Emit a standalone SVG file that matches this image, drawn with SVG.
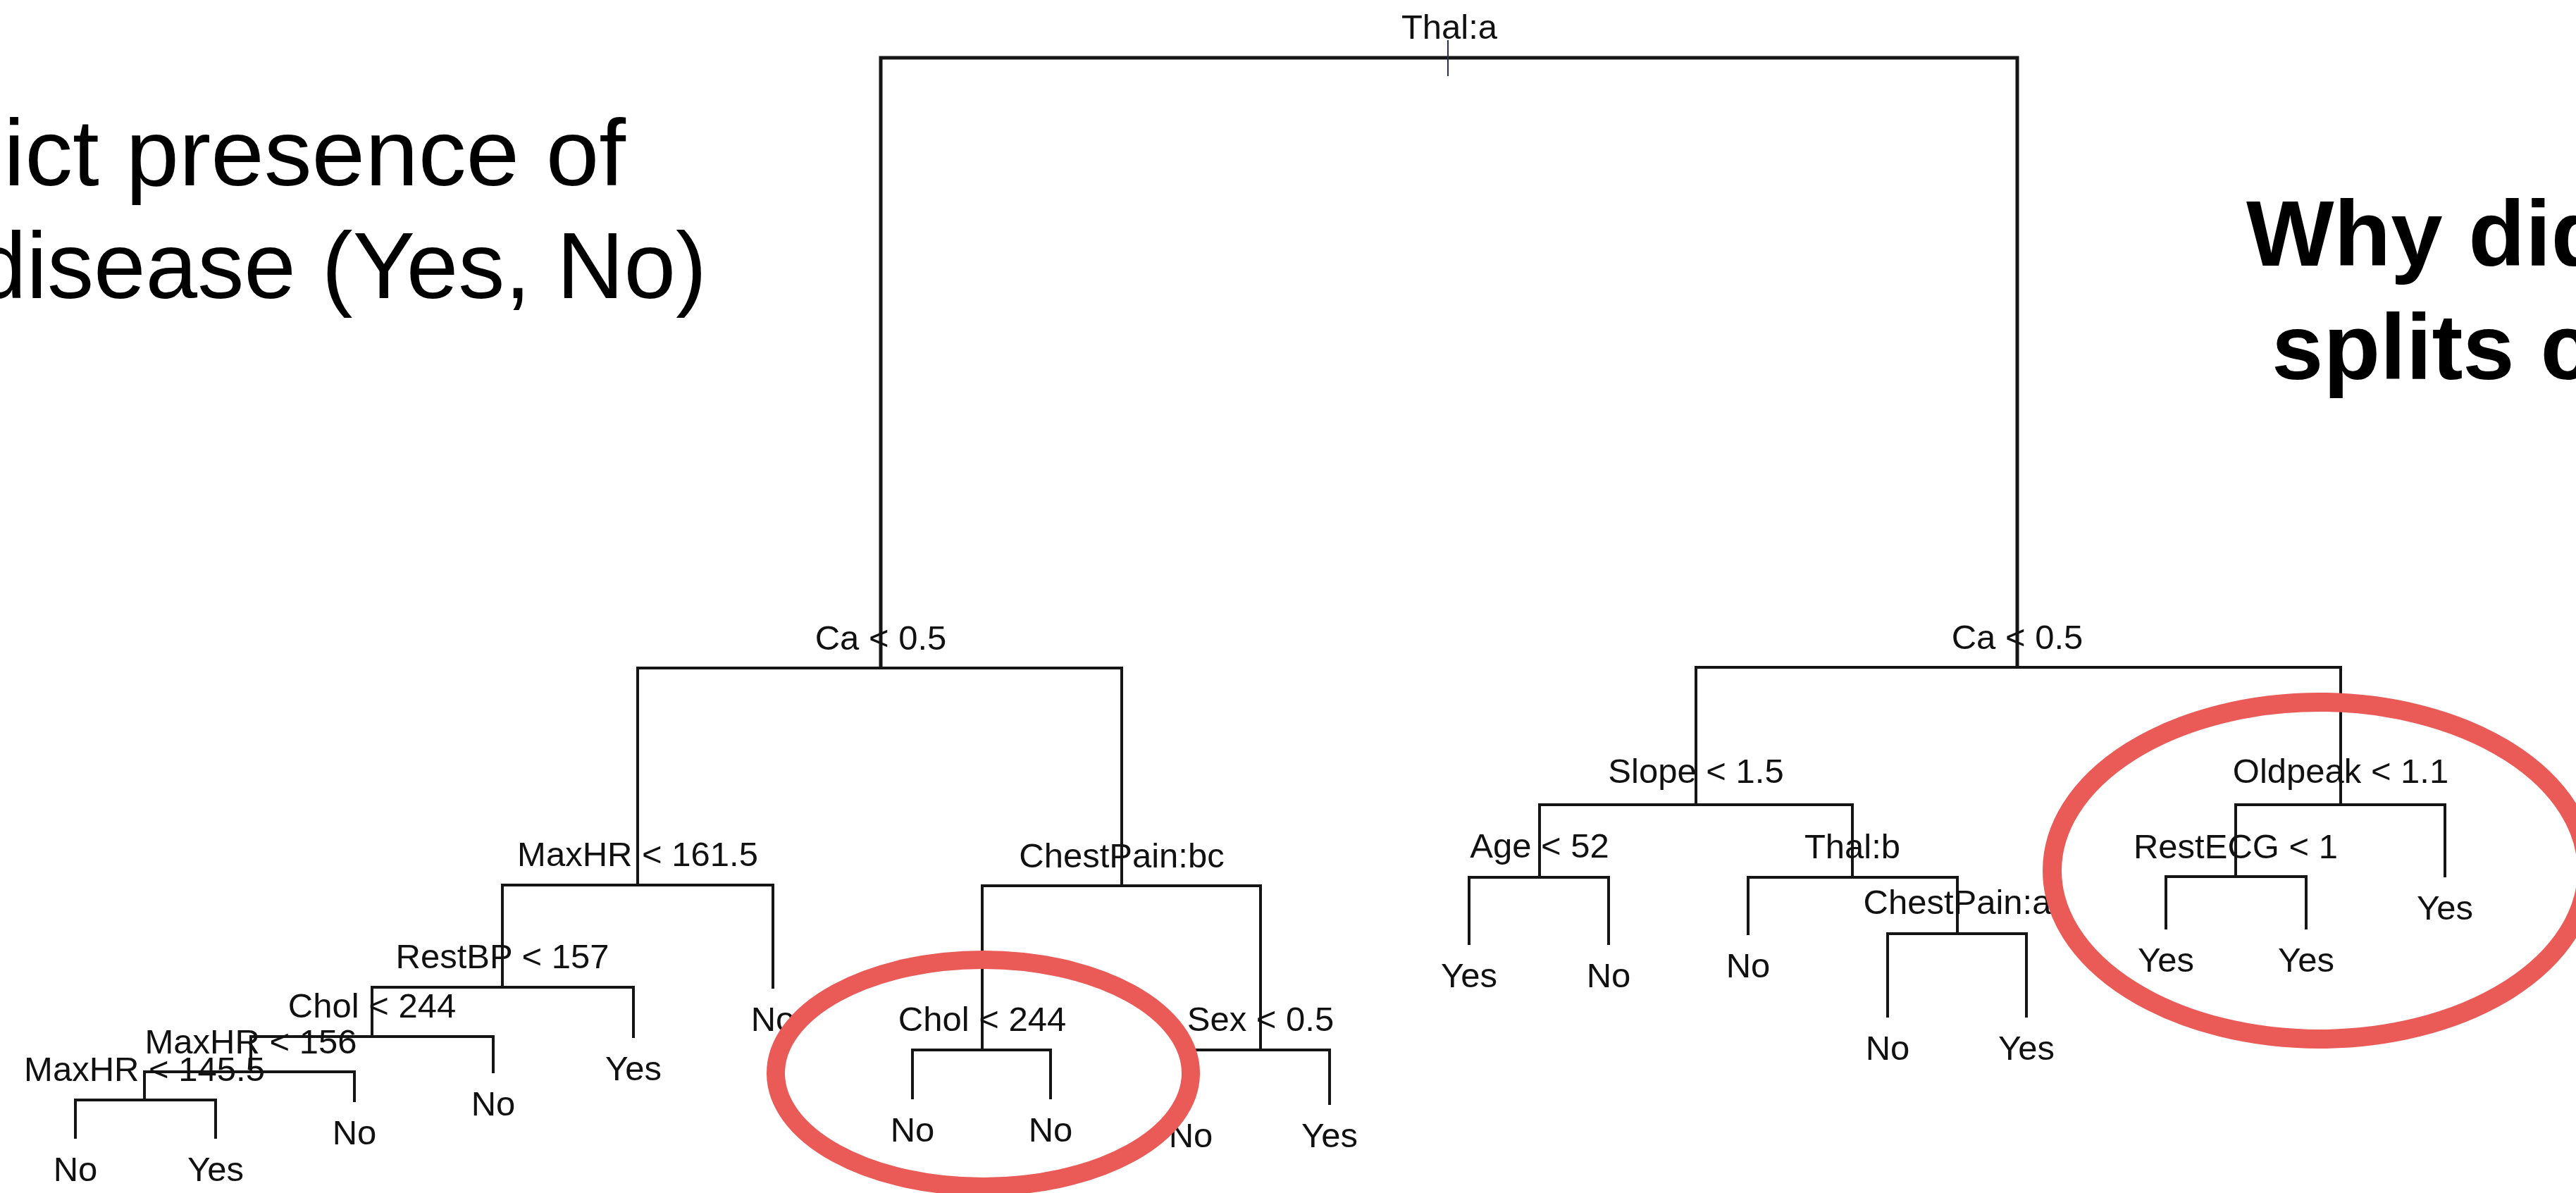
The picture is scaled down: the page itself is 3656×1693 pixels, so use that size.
<svg xmlns="http://www.w3.org/2000/svg" width="3656" height="1693" viewBox="0 0 3656 1693">
<style>
.bg{fill:#ffffff}
.edge{fill:none;stroke:#151515;stroke-width:4;stroke-linecap:butt;stroke-linejoin:miter}
.lbl{font-family:"Liberation Sans",Arial,Helvetica,sans-serif;font-size:49px;fill:#111111;text-anchor:middle}
.title{font-family:"Liberation Sans",Arial,Helvetica,sans-serif;font-size:134px;fill:#000000}
.q{font-family:"Liberation Sans",Arial,Helvetica,sans-serif;font-size:132px;font-weight:bold;fill:#000000}
.ring{fill:none;stroke:#EA5B57;stroke-width:26}
</style>
<rect class="bg" x="0" y="0" width="3656" height="1693"/>

<g id="title-left">
<text class="title" x="5" y="263" textLength="883" lengthAdjust="spacingAndGlyphs">ict presence of</text>
<text class="title" x="-36" y="423" textLength="1039" lengthAdjust="spacingAndGlyphs">disease (Yes, No)</text>
</g>
<g id="title-right">
<text class="q" x="3188" y="377">Why did</text>
<text class="q" x="3224" y="538">splits c</text>
</g>

<g id="connectors">
<path class="edge" d="M1250 948 V82 H2863 V947" style="stroke-width:5"/>
<path d="M2055 57 V108" fill="none" stroke="#26304a" stroke-width="2"/>
<path class="edge" d="M905 1256 V948 H1592 V1257"/>
<path class="edge" d="M713 1401 V1256 H1097 V1403"/>
<path class="edge" d="M528 1471 V1401 H899 V1473"/>
<path class="edge" d="M356 1521 V1471 H700 V1523"/>
<path class="edge" d="M205 1561 V1521 H503 V1564"/>
<path class="edge" d="M107 1616 V1561 H306 V1616"/>
<path class="edge" d="M1394 1490 V1257 H1789 V1490"/>
<path class="edge" d="M1295 1560 V1490 H1491 V1560"/>
<path class="edge" d="M1690 1568 V1490 H1887 V1568"/>
<path class="edge" d="M2407 1142 V947 H3322 V1142"/>
<path class="edge" d="M2185 1245 V1142 H2629 V1245"/>
<path class="edge" d="M2085 1341 V1245 H2283 V1341"/>
<path class="edge" d="M2481 1327 V1245 H2778 V1325"/>
<path class="edge" d="M2679 1444 V1325 H2876 V1444"/>
<path class="edge" d="M3173 1244 V1142 H3470 V1245"/>
<path class="edge" d="M3074 1319 V1244 H3273 V1319"/>
</g>

<g id="n-thal-a"><text class="lbl" x="2057" y="55">Thal:a</text></g>
<g id="n-ca-left"><text class="lbl" x="1250" y="922">Ca &lt; 0.5</text></g>
<g id="n-maxhr-161"><text class="lbl" x="905" y="1229">MaxHR &lt; 161.5</text></g>
<g id="n-restbp-157"><text class="lbl" x="713" y="1374">RestBP &lt; 157</text></g>
<g id="n-chol-244-a"><text class="lbl" x="528" y="1444">Chol &lt; 244</text></g>
<g id="n-maxhr-156"><text class="lbl" x="356" y="1495">MaxHR &lt; 156</text></g>
<g id="n-maxhr-145"><text class="lbl" x="205" y="1534">MaxHR &lt; 145.5</text></g>
<g id="n-chestpain-bc"><text class="lbl" x="1592" y="1231">ChestPain:bc</text></g>
<g id="n-chol-244-b"><text class="lbl" x="1394" y="1463">Chol &lt; 244</text></g>
<g id="n-sex-05"><text class="lbl" x="1789" y="1463">Sex &lt; 0.5</text></g>
<g id="n-ca-right"><text class="lbl" x="2863" y="921">Ca &lt; 0.5</text></g>
<g id="n-slope-15"><text class="lbl" x="2407" y="1111">Slope &lt; 1.5</text></g>
<g id="n-age-52"><text class="lbl" x="2185" y="1217">Age &lt; 52</text></g>
<g id="n-thal-b"><text class="lbl" x="2629" y="1218">Thal:b</text></g>
<g id="n-chestpain-a"><text class="lbl" x="2778" y="1297">ChestPain:a</text></g>
<g id="n-oldpeak-11"><text class="lbl" x="3322" y="1111">Oldpeak &lt; 1.1</text></g>
<g id="n-restecg-1"><text class="lbl" x="3173" y="1218">RestECG &lt; 1</text></g>

<g id="leaf-1"><text class="lbl" x="107" y="1676">No</text></g>
<g id="leaf-2"><text class="lbl" x="306" y="1676">Yes</text></g>
<g id="leaf-3"><text class="lbl" x="503" y="1624">No</text></g>
<g id="leaf-4"><text class="lbl" x="700" y="1583">No</text></g>
<g id="leaf-5"><text class="lbl" x="899" y="1533">Yes</text></g>
<g id="leaf-6"><text class="lbl" x="1097" y="1463">No</text></g>
<g id="leaf-7"><text class="lbl" x="1295" y="1620">No</text></g>
<g id="leaf-8"><text class="lbl" x="1491" y="1620">No</text></g>
<g id="leaf-9"><text class="lbl" x="1690" y="1628">No</text></g>
<g id="leaf-10"><text class="lbl" x="1887" y="1628">Yes</text></g>
<g id="leaf-11"><text class="lbl" x="2085" y="1401">Yes</text></g>
<g id="leaf-12"><text class="lbl" x="2283" y="1401">No</text></g>
<g id="leaf-13"><text class="lbl" x="2481" y="1387">No</text></g>
<g id="leaf-14"><text class="lbl" x="2679" y="1504">No</text></g>
<g id="leaf-15"><text class="lbl" x="2876" y="1504">Yes</text></g>
<g id="leaf-16"><text class="lbl" x="3074" y="1379">Yes</text></g>
<g id="leaf-17"><text class="lbl" x="3273" y="1379">Yes</text></g>
<g id="leaf-18"><text class="lbl" x="3470" y="1305">Yes</text></g>

<g id="highlights">
<ellipse class="ring" cx="1395.5" cy="1523" rx="294.5" ry="161"/>
<ellipse class="ring" cx="3292" cy="1235.5" rx="379.5" ry="239" style="stroke-width:27"/>
</g>
</svg>
